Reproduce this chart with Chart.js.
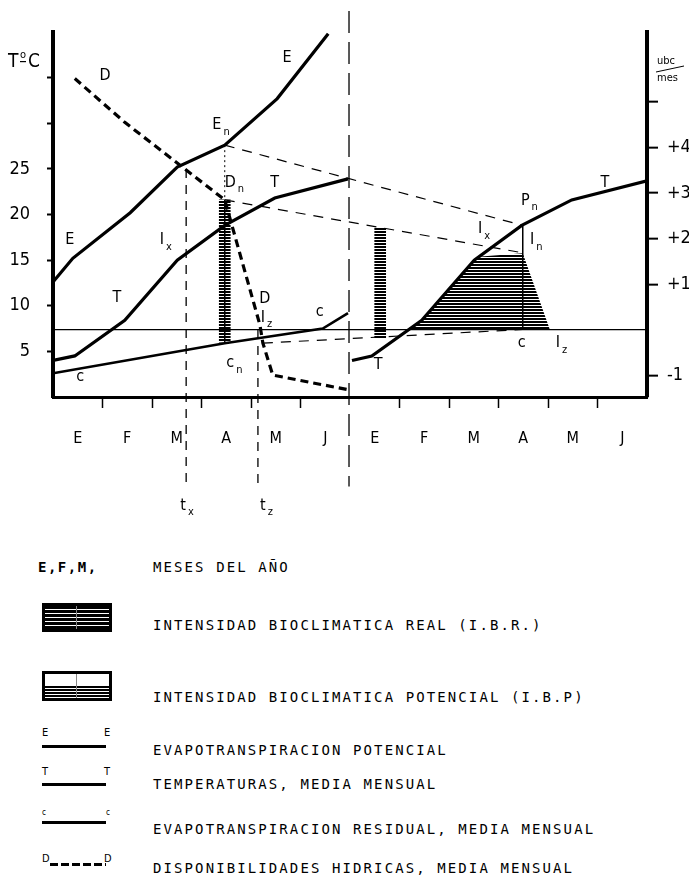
<!DOCTYPE html>
<html lang="es">
<head>
<meta charset="UTF-8">
<title>Intensidad bioclimatica</title>
<script src="https://cdn.jsdelivr.net/npm/chart.js"></script>
<style>
  body { margin: 0; background: #fff; }
  #wrap { position: relative; width: 689px; height: 880px; }
  #chart { position: absolute; left: 0; top: 0; }
  .txt { position: absolute; left: 153px; font: 14px "DejaVu Sans Mono", monospace; letter-spacing: 2.1px; line-height: 20px; white-space: nowrap; color: #000; }
  .sym { position: absolute; left: 42px; width: 64px; }
  .box1 { height: 23px; border: 3px solid #000; background: repeating-linear-gradient(to bottom, #000 0 3px, #fff 3px 4px); }
  .box2 { height: 24px; border: 3px solid #000; background: linear-gradient(#fff 50%, transparent 50%), repeating-linear-gradient(to bottom, #000 0 2px, #fff 2px 3px); }
  .box1::after, .box2::after { content: ""; position: absolute; left: 31px; top: 0; bottom: 0; width: 1px; background: #888; }
  .bar { height: 3px; background: #000; }
  .dash { height: 3px; background: repeating-linear-gradient(to right, #000 0 8px, transparent 8px 11px); }
  .lt { position: absolute; font: 11px "Liberation Sans Narrow", "DejaVu Sans Condensed", sans-serif; line-height: 12px; }
</style>
</head>
<body>
<div id="wrap">
  <canvas id="chart" width="689" height="540"></canvas>

  <div class="txt" style="left:38px;top:557px;font-weight:bold;letter-spacing:1.5px">E,F,M,</div>
  <div class="txt" style="top:557px">MESES DEL AÑO</div>

  <div class="sym box1" style="top:603px"></div>
  <div class="txt" style="top:615px">INTENSIDAD BIOCLIMATICA REAL (I.B.R.)</div>

  <div class="sym box2" style="top:671px"></div>
  <div class="txt" style="top:687px">INTENSIDAD BIOCLIMATICA POTENCIAL (I.B.P)</div>

  <div class="lt" style="left:42px;top:727px">E</div><div class="lt" style="left:104px;top:727px">E</div>
  <div class="sym bar" style="top:745px"></div>
  <div class="txt" style="top:740px">EVAPOTRANSPIRACION POTENCIAL</div>

  <div class="lt" style="left:42px;top:766px">T</div><div class="lt" style="left:104px;top:766px">T</div>
  <div class="sym bar" style="top:783px"></div>
  <div class="txt" style="top:774px">TEMPERATURAS, MEDIA MENSUAL</div>

  <div class="lt" style="left:42px;top:807px;font-size:8px">c</div><div class="lt" style="left:106px;top:807px;font-size:8px">c</div>
  <div class="sym bar" style="top:821px"></div>
  <div class="txt" style="top:819px">EVAPOTRANSPIRACION RESIDUAL, MEDIA MENSUAL</div>

  <div class="lt" style="left:42px;top:853px">D</div><div class="lt" style="left:104px;top:853px">D</div>
  <div class="sym dash" style="top:863px;left:50px;width:56px"></div>
  <div class="txt" style="top:858px">DISPONIBILIDADES HIDRICAS, MEDIA MENSUAL</div>
</div>

<script>
// meses (dos semestres) y marcas de los ejes
const months = ['E', 'F', 'M', 'A', 'M', 'J', 'E', 'F', 'M', 'A', 'M', 'J'];
const monthTicks = [1, 2, 3, 4, 5, 7, 8, 9, 10, 11];
const tempTicks = [5, 10, 15, 20, 25, 30, 35];
const tempTickLabels = ['5', '10', '15', '20', '25', '', ''];
const ubcTicks = [-1, 0, 1, 2, 3, 4, 5];
const ubcTickLabels = ['-1', '', '+1', '+2', '+3', '+4', ''];
const ubcZero = 7.35;   // temperatura donde ubc/mes = 0
const ubcPerDegree = 5;

// E: evapotranspiracion potencial
const evapX = [0, 0.40, 1.56, 2.51, 3.47, 4.53, 5.56];
const evapE = [12.6, 15.2, 20.2, 25.2, 27.6, 32.7, 39.8];
// T: temperaturas, primer y segundo tramo
const tempX = [0, 0.44, 1.45, 2.51, 3.47, 4.48, 5.96];
const tempT = [4.0, 4.5, 8.4, 15.0, 18.8, 21.8, 23.9];
const temp2X = [6.04, 6.44, 7.45, 8.51, 9.47, 10.48, 12];
const temp2T = [4.0, 4.5, 8.4, 15.0, 18.8, 21.6, 23.7];
// c: evapotranspiracion residual
const resX = [0, 3.47, 5.45, 5.96];
const resC = [2.6, 5.9, 7.5, 9.2];
// D: disponibilidades hidricas
const dispX = [0.44, 1.45, 3.47, 4.18, 4.24, 4.44, 5.96];
const dispD = [34.9, 30.1, 21.6, 7.9, 5.9, 2.4, 0.8];

// lineas de traslado (En -> Pn, Dn -> In, cn -> c)
const linkX = [3.47, 9.49];
const linkE = [27.6, 18.8];
const linkD = [21.6, 15.8];
const linkCX = [4.24, 9.49];
const linkC = [5.9, 7.4];

// barras I.B.R.
const ibrX = [3.47, 6.61];
const ibrLow = [6.0, 6.45];
const ibrHigh = [21.6, 18.6];
// superficie I.B.P.
const ibpX = [7.17, 7.45, 8.51, 8.65, 9.49, 10.04];
const ibpY = [7.35, 8.4, 15.0, 15.4, 15.75, 7.35];

// verticales tx, tz y separacion de semestres
const txX = 2.69, txTop = 25.0;
const tzX = 4.14, tzTop = 7.35;
const splitX = 5.98, splitTop = 42.3;
const guideBottom = -9.8;

// rotulos sobre el dibujo: letra, subindice, x, y
const notes = [
  ['D', '', 1.05, 35.2], ['E', '', 4.73, 37.2], ['E', 'n', 3.31, 29.8],
  ['D', 'n', 3.58, 23.5], ['T', '', 4.48, 23.5], ['E', '', 0.34, 17.2],
  ['I', 'x', 2.2, 17.2], ['T', '', 1.29, 10.9], ['D', '', 4.28, 10.8],
  ['I', 'z', 4.24, 8.7], ['c', '', 5.39, 9.3], ['c', 'n', 3.58, 3.7],
  ['c', '', 0.55, 2.2], ['P', 'n', 9.54, 21.55], ['I', 'x', 8.63, 18.4],
  ['I', 'n', 9.68, 17.2], ['T', '', 11.15, 23.5], ['T', '', 6.57, 3.5],
  ['c', '', 9.47, 5.9], ['I', 'z', 10.2, 5.9],
  ['t', 'x', 2.63, -11.9], ['t', 'z', 4.24, -11.9]
];

const FONT = '"Liberation Sans Narrow", "DejaVu Sans Condensed", "Liberation Sans", sans-serif';

function pts(xs, ys) {
  return xs.map((x, i) => ({ x: x, y: ys[i] }));
}

function hatch(lineH, gapH) {
  const c = document.createElement('canvas');
  c.width = 4;
  c.height = lineH + gapH;
  const g = c.getContext('2d');
  g.fillStyle = '#000';
  g.fillRect(0, 0, 4, lineH);
  return g.createPattern(c, 'repeat');
}

function line(data, width, dash, extra) {
  return Object.assign({
    type: 'line',
    data: data,
    borderColor: '#000',
    borderWidth: width,
    borderDash: dash || [],
    pointRadius: 0,
    fill: false,
    tension: 0
  }, extra || {});
}

const stripes = hatch(2, 1);

const datasets = [
  line(pts(evapX, evapE), 3.2),
  line(pts(tempX, tempT), 3.2),
  line(pts(temp2X, temp2T), 3.2),
  line(pts(resX, resC), 2.6),
  line(pts(dispX, dispD), 3.2, [8, 5]),
  line(pts(linkX, linkE), 1.2, [10, 8]),
  line(pts(linkX, linkD), 1.2, [10, 8]),
  line(pts(linkCX, linkC), 1.2, [10, 8]),
  line(pts([linkX[0], linkX[0]], [linkE[0], linkD[0]]), 1, [2, 3]),
  line(pts([linkX[1], linkX[1]], [linkE[1], ubcZero]), 1.5),
  line(pts([ibrX[0], ibrX[0]], [ibrHigh[0], ibrLow[0]]), 1.5),
  line(pts([txX, txX], [txTop, guideBottom]), 1.3, [9, 7], { clip: false }),
  line(pts([tzX, tzX], [tzTop, guideBottom]), 1.3, [9, 7], { clip: false }),
  line(pts([splitX, splitX], [splitTop, guideBottom]), 1.3, [22, 9], { clip: false }),
  line(pts(ibpX, ibpY), 0, [], { borderColor: 'transparent', backgroundColor: stripes, fill: { value: ubcZero } }),
  {
    type: 'bar',
    data: ibrX.map((x, i) => ({ x: x, y: [ibrLow[i], ibrHigh[i]] })),
    backgroundColor: stripes,
    borderWidth: 0,
    barThickness: 11
  }
];

const notesPlugin = {
  id: 'notes',
  afterDatasetsDraw(chart) {
    const ctx = chart.ctx;
    const xs = chart.scales.x, ys = chart.scales.y;
    const area = chart.chartArea;
    ctx.save();
    ctx.fillStyle = '#000';
    ctx.textBaseline = 'middle';
    notes.forEach(n => {
      const px = xs.getPixelForValue(n[2]);
      const py = ys.getPixelForValue(n[3]);
      ctx.font = '16px ' + FONT;
      ctx.textAlign = 'center';
      ctx.fillText(n[0], px, py);
      if (n[1]) {
        const w = ctx.measureText(n[0]).width;
        ctx.font = '11px ' + FONT;
        ctx.textAlign = 'left';
        ctx.fillText(n[1], px + w / 2 + 2, py + 7);
      }
    });
    // unidades de los ejes
    ctx.textAlign = 'left';
    ctx.font = '19px ' + FONT;
    ctx.fillText('T', 8, 62);
    ctx.font = '11px ' + FONT;
    ctx.fillText('o', 20, 55);
    ctx.fillRect(20, 61, 6, 1.2);
    ctx.font = '19px ' + FONT;
    ctx.fillText('C', 28, 62);
    ctx.font = '11px ' + FONT;
    ctx.fillText('ubc', area.right + 10, 61);
    ctx.fillText('mes', area.right + 10, 78);
    ctx.lineWidth = 1;
    ctx.beginPath();
    ctx.moveTo(area.right + 9, 72);
    ctx.lineTo(area.right + 37, 66);
    ctx.stroke();
    ctx.restore();
  }
};

Chart.defaults.color = '#000';
Chart.defaults.font.family = FONT;

new Chart(document.getElementById('chart'), {
  type: 'line',
  data: { datasets: datasets },
  options: {
    responsive: false,
    animation: false,
    layout: { padding: { top: 32, left: 0, right: 0, bottom: 0 } },
    plugins: { legend: { display: false }, tooltip: { enabled: false } },
    scales: {
      x: {
        type: 'linear',
        min: 0,
        max: 12,
        offset: false,
        afterFit(scale) { scale.height = 143; },
        afterBuildTicks(scale) {
          const vals = months.map((m, i) => i + 0.5).concat(monthTicks).sort((a, b) => a - b);
          scale.ticks = vals.map(v => ({ value: v }));
        },
        border: { color: '#000', width: 3 },
        grid: {
          drawOnChartArea: false,
          offset: false,
          tickLength: 11,
          tickWidth: 1.5,
          tickColor: c => (c.tick && Number.isInteger(c.tick.value)) ? '#000' : 'transparent'
        },
        ticks: {
          autoSkip: false,
          maxRotation: 0,
          padding: 21,
          font: { size: 16 },
          callback: v => Number.isInteger(v) ? '' : months[Math.floor(v)]
        }
      },
      y: {
        type: 'linear',
        position: 'left',
        min: 0,
        max: 40,
        afterFit(scale) { scale.width = 53; },
        afterBuildTicks(scale) { scale.ticks = tempTicks.map(v => ({ value: v })); },
        border: { color: '#000', width: 4 },
        grid: { drawOnChartArea: false, tickLength: 6, tickWidth: 2, tickColor: '#000' },
        ticks: {
          padding: 17,
          font: { size: 18 },
          callback: v => tempTickLabels[tempTicks.indexOf(v)]
        }
      },
      y2: {
        type: 'linear',
        position: 'right',
        min: (0 - ubcZero) / ubcPerDegree,
        max: (40 - ubcZero) / ubcPerDegree,
        afterFit(scale) { scale.width = 42; },
        afterBuildTicks(scale) { scale.ticks = ubcTicks.map(v => ({ value: v })); },
        border: { color: '#000', width: 4 },
        grid: {
          drawOnChartArea: true,
          color: c => (c.tick && c.tick.value === 0) ? '#000' : 'transparent',
          lineWidth: 1.3,
          tickLength: 11,
          tickWidth: 2,
          tickColor: c => (c.tick && c.tick.value === 0) ? 'transparent' : '#000'
        },
        ticks: {
          padding: 9,
          font: { size: 18 },
          callback: v => ubcTickLabels[ubcTicks.indexOf(v)]
        }
      }
    }
  },
  plugins: [notesPlugin]
});
</script>
</body>
</html>
